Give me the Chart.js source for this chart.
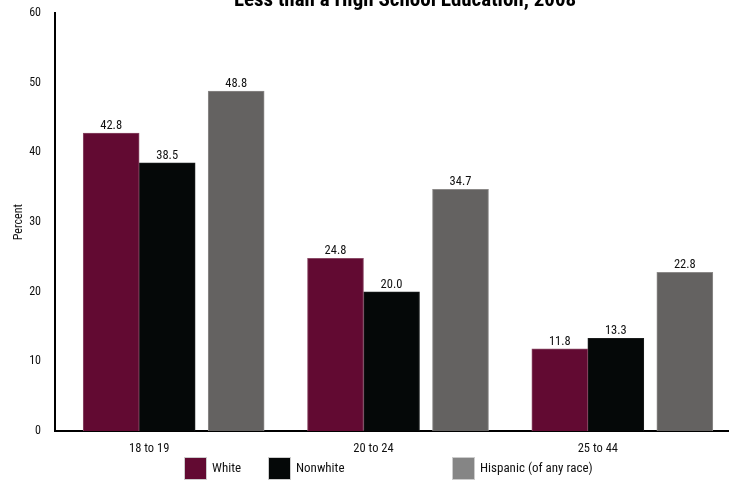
<!DOCTYPE html>
<html>
<head>
<meta charset="utf-8">
<script src="https://cdn.jsdelivr.net/npm/chart.js@4/dist/chart.umd.min.js"></script>
<style>
  html, body { margin: 0; padding: 0; background: #ffffff; }
  #wrap { position: relative; width: 737px; height: 483px; }
</style>
</head>
<body>
<div id="wrap"><canvas id="c" width="737" height="483"></canvas></div>
<script>
const categories = ['18 to 19', '20 to 24', '25 to 44'];
const whiteValues = [42.8, 24.8, 11.8];
const nonwhiteValues = [38.5, 20.0, 13.3];
const hispanicValues = [48.8, 34.7, 22.8];
const seriesNames = ['White', 'Nonwhite', 'Hispanic (of any race)'];
const yTicks = [0, 10, 20, 30, 40, 50, 60];
const titleText = 'Less than a High School Education, 2008';

const FONT = "'Liberation Sans Narrow', 'Arial Narrow', 'Roboto Condensed', 'Liberation Sans', Arial, sans-serif";
const colors = ['#620a32', '#050808', '#646261'];
const borderColors = ['#8a4a66', '#1a1c1c', '#8c8a89'];
const legendColors = ['#620a32', '#050808', '#858585'];

const valueLabels = {
  id: 'valueLabels',
  afterDatasetsDraw(chart) {
    const ctx = chart.ctx;
    ctx.save();
    ctx.font = '12.5px ' + FONT;
    ctx.fillStyle = '#111';
    ctx.textAlign = 'center';
    ctx.textBaseline = 'bottom';
    chart.data.datasets.forEach((ds, di) => {
      const meta = chart.getDatasetMeta(di);
      meta.data.forEach((bar, i) => {
        ctx.fillText(ds.data[i].toFixed(1), bar.x, bar.y - 1);
      });
    });
    ctx.restore();
  }
};

const topTitle = {
  id: 'topTitle',
  afterDraw(chart) {
    const ctx = chart.ctx;
    ctx.save();
    ctx.font = 'bold 21px ' + FONT;
    ctx.fillStyle = '#000';
    ctx.textAlign = 'center';
    ctx.textBaseline = 'alphabetic';
    ctx.fillText(titleText, 405, 6);
    ctx.restore();
  }
};

const customLegend = {
  id: 'customLegend',
  afterDraw(chart) {
    const ctx = chart.ctx;
    const xs = [184, 268, 452];
    ctx.save();
    ctx.font = '13px ' + FONT;
    ctx.textAlign = 'left';
    ctx.textBaseline = 'middle';
    seriesNames.forEach((name, i) => {
      ctx.fillStyle = legendColors[i];
      ctx.fillRect(xs[i], 457, 23, 23);
      ctx.strokeStyle = '#cccccc';
      ctx.lineWidth = 1;
      ctx.strokeRect(xs[i] + 0.5, 457.5, 22, 22);
      ctx.fillStyle = '#111';
      ctx.fillText(name, xs[i] + 28, 469);
    });
    ctx.restore();
  }
};

new Chart(document.getElementById('c'), {
  type: 'bar',
  data: {
    labels: categories,
    datasets: [
      { label: seriesNames[0], data: whiteValues, backgroundColor: colors[0], borderColor: borderColors[0], borderWidth: 1, barThickness: 56 },
      { label: seriesNames[1], data: nonwhiteValues, backgroundColor: colors[1], borderColor: borderColors[1], borderWidth: 1, barThickness: 56 },
      { label: seriesNames[2], data: hispanicValues, backgroundColor: colors[2], borderColor: borderColors[2], borderWidth: 1, barThickness: 69, maxBarThickness: 56 }
    ]
  },
  options: {
    responsive: false,
    animation: false,
    devicePixelRatio: 1,
    layout: { padding: { top: 10, right: 9, left: 0, bottom: 0 } },
    plugins: {
      legend: { display: false },
      title: { display: false },
      tooltip: { enabled: false }
    },
    scales: {
      x: {
        type: 'category',
        offset: true,
        grid: { display: false },
        border: { display: true, color: '#000', width: 2 },
        ticks: { color: '#111', font: { family: FONT, size: 12.5 }, padding: 2, labelOffset: -18, maxRotation: 0 },
        afterFit(scale) { scale.height = 52; }
      },
      y: {
        min: 0,
        max: 60,
        afterBuildTicks(scale) { scale.ticks = yTicks.map(v => ({ value: v })); },
        grid: { display: false },
        border: { display: true, color: '#000', width: 2 },
        ticks: { color: '#111', font: { family: FONT, size: 12 }, padding: 6 },
        title: { display: true, text: 'Percent', color: '#111', font: { family: FONT, size: 12 }, padding: { top: 12, bottom: 0 } },
        afterFit(scale) { scale.width = 55; }
      }
    }
  },
  plugins: [valueLabels, topTitle, customLegend]
});
</script>
</body>
</html>
